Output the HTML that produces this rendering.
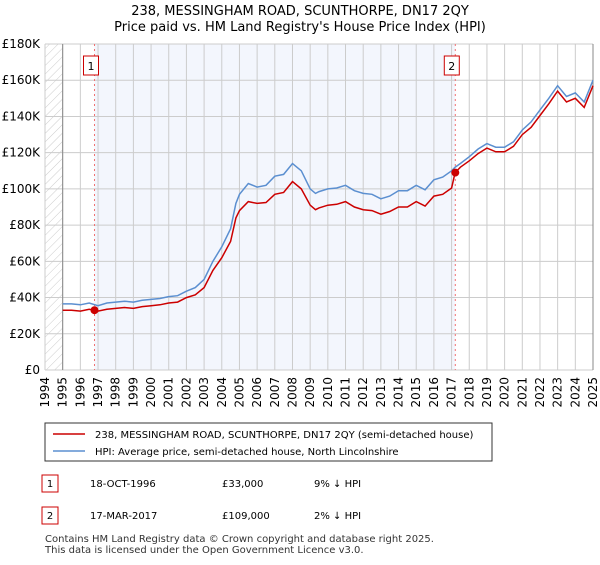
<!DOCTYPE html>
<html><head><meta charset="utf-8">
<style>
body{margin:0;background:#fff;font-family:"Liberation Sans","DejaVu Sans",sans-serif;}
svg text{font-family:"DejaVu Sans","Liberation Sans",sans-serif;}
</style></head>
<body>
<svg id="chart" width="600" height="560" xmlns="http://www.w3.org/2000/svg">
<defs>
<pattern id="hatch" width="6" height="6" patternUnits="userSpaceOnUse" patternTransform="rotate(45)">
<line x1="0" y1="0" x2="0" y2="6" stroke="#ccc" stroke-width="1"/>
</pattern>
</defs>
<text x="300" y="15" text-anchor="middle" font-size="13">238, MESSINGHAM ROAD, SCUNTHORPE, DN17 2QY</text>
<text x="300" y="31" text-anchor="middle" font-size="13">Price paid vs. HM Land Registry's House Price Index (HPI)</text>
<g id="plot"></g>
<g>
<rect x="45" y="423" width="447" height="38" fill="#fff" stroke="#333"/>
<line x1="53" y1="434" x2="85" y2="434" stroke="#cc0000" stroke-width="1.5"/>
<text x="95" y="438" font-size="10">238, MESSINGHAM ROAD, SCUNTHORPE, DN17 2QY (semi-detached house)</text>
<line x1="53" y1="451" x2="85" y2="451" stroke="#5b8fd0" stroke-width="1.5"/>
<text x="95" y="455" font-size="10">HPI: Average price, semi-detached house, North Lincolnshire</text>
</g>
<g font-size="10">
<rect x="42" y="475" width="16" height="17" fill="#fff" stroke="#cc0000"/><text x="50" y="487" text-anchor="middle">1</text>
<text x="90" y="487">18-OCT-1996</text><text x="222" y="487">£33,000</text><text x="314" y="487">9% ↓ HPI</text>
<rect x="42" y="507" width="16" height="17" fill="#fff" stroke="#cc0000"/><text x="50" y="519" text-anchor="middle">2</text>
<text x="90" y="519">17-MAR-2017</text><text x="222" y="519">£109,000</text><text x="314" y="519">2% ↓ HPI</text>
</g>
<text x="45" y="542" font-size="10" fill="#333">Contains HM Land Registry data © Crown copyright and database right 2025.</text>
<text x="45" y="553" font-size="10" fill="#333">This data is licensed under the Open Government Licence v3.0.</text>
</svg>
<script>
const yearTicks=[1994,1995,1996,1997,1998,1999,2000,2001,2002,2003,2004,2005,2006,2007,2008,2009,2010,2011,2012,2013,2014,2015,2016,2017,2018,2019,2020,2021,2022,2023,2024,2025];
const valueTicks=[0,20000,40000,60000,80000,100000,120000,140000,160000,180000];
const valueLabels=["£0","£20K","£40K","£60K","£80K","£100K","£120K","£140K","£160K","£180K"];
const hpiDates=[1995,1995.5,1996,1996.5,1997,1997.5,1998,1998.5,1999,1999.5,2000,2000.5,2001,2001.5,2002,2002.5,2003,2003.5,2004,2004.5,2004.8,2005,2005.5,2006,2006.5,2007,2007.5,2008,2008.5,2009,2009.3,2009.5,2010,2010.5,2011,2011.5,2012,2012.5,2013,2013.5,2014,2014.5,2015,2015.5,2016,2016.5,2017,2017.2,2017.5,2018,2018.5,2019,2019.5,2020,2020.5,2021,2021.5,2022,2022.5,2023,2023.5,2024,2024.5,2025];
const hpiValues=[36500,36500,36000,37000,35500,37000,37500,38000,37500,38500,39000,39500,40500,41000,43500,45500,50000,60000,68000,78000,92000,97000,103000,101000,102000,107000,108000,114000,110000,100000,97500,98500,100000,100500,102000,99000,97500,97000,94500,96000,99000,99000,102000,99500,105000,106500,110000,112000,114000,117800,122000,125000,123000,123000,126000,132500,137000,143600,150000,157000,151000,153000,148000,160000];
const ppDates=hpiDates;
const ppValues=[33000,33000,32500,33500,32500,33500,34000,34500,34000,35000,35500,36000,37000,37500,40000,41500,45500,55000,62000,71000,84000,88000,93000,92000,92500,97000,98000,104000,100000,91000,88500,89500,91000,91500,93000,90000,88500,88000,86000,87500,90000,90000,93000,90500,96000,97000,100500,109000,112000,115500,119500,122500,120500,120500,123500,130000,134000,140500,147000,154000,148000,150000,145000,157000];
const sales=[[1996.8,33000,"1"],[2017.21,109000,"2"]];

const NS="http://www.w3.org/2000/svg";
const L=45,R=593,T=44,B=370;
const x=d=>L+(d-1994)/(2025-1994)*(R-L);
const y=v=>B-v/180000*(B-T);
const g=document.getElementById('plot');
function mk(tag,attrs,parent){const e=document.createElementNS(NS,tag);for(const k in attrs)e.setAttribute(k,attrs[k]);(parent||g).appendChild(e);return e;}
let e;
e=mk('rect',{x:L,y:T,width:x(1995)-L,height:B-T,fill:'url(#hatch)'});


e=mk('rect',{x:x(sales[0][0]),y:T,width:x(sales[1][0])-x(sales[0][0]),height:B-T,fill:'#f3f6fd'});


yearTicks.forEach(t=>{
 e=mk('line',{x1:x(t),y1:T,x2:x(t),y2:B,stroke:'#ccc','stroke-width':1});
 
 
 e=mk('text',{x:0,y:0,'font-size':12,'text-anchor':'end',transform:`translate(${x(t)+4},${B+7}) rotate(-90)`});
 e.textContent=t;
 
 
});
valueTicks.forEach((v,i)=>{
 e=mk('line',{x1:L,y1:y(v),x2:R,y2:y(v),stroke:'#ccc','stroke-width':1});
 
 
 e=mk('text',{x:L-5,y:y(v)+4,'font-size':12,'text-anchor':'end'});
 e.textContent=valueLabels[i];
 
 
});
e=mk('line',{x1:x(1995),y1:T,x2:x(1995),y2:B,stroke:'#888'});


e=mk('line',{x1:R,y1:T,x2:R,y2:B,stroke:'#888'});


sales.forEach(s=>{
 e=mk('line',{x1:x(s[0]),y1:T,x2:x(s[0]),y2:B,stroke:'#f07070','stroke-dasharray':'2,3'});
 
 
 e=mk('rect',{x:x(s[0])-11,y:T+12,width:15,height:19,fill:'#fff',stroke:'#cc0000'});
 
 
 e=mk('text',{x:x(s[0])-3.5,y:T+26,'font-size':11,'text-anchor':'middle'});
 e.textContent=s[2];
 
 
});
function pts(ds,vs){return ds.map((d,i)=>x(d).toFixed(1)+','+y(vs[i]).toFixed(1)).join(' ');}
e=mk('polyline',{points:pts(hpiDates,hpiValues),fill:'none',stroke:'#5b8fd0','stroke-width':1.5});


e=mk('polyline',{points:pts(ppDates,ppValues),fill:'none',stroke:'#cc0000','stroke-width':1.5});


sales.forEach(s=>{
 e=mk('circle',{cx:x(s[0]),cy:y(s[1]),r:4,fill:'#cc0000'});
 
 
});
</script>
</body></html>
